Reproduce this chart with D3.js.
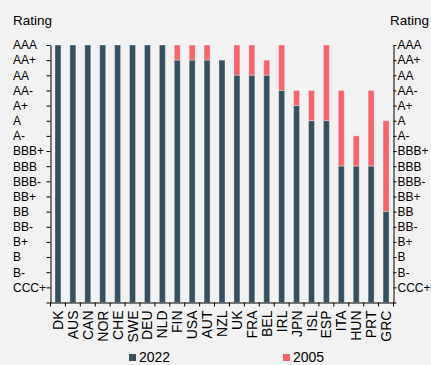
<!DOCTYPE html>
<html>
<head>
<meta charset="utf-8">
<script src="https://cdn.jsdelivr.net/npm/d3@7"></script>
<style>
  body { margin: 0; background: #f2f2f2; }
  text { font-family: "Liberation Sans", Arial, sans-serif; fill: #000; }
</style>
</head>
<body>
<div id="chart"></div>
<script>
var countries = ['DK', 'AUS', 'CAN', 'NOR', 'CHE', 'SWE', 'DEU', 'NLD', 'FIN', 'USA', 'AUT', 'NZL',
	'UK', 'FRA', 'BEL', 'IRL', 'JPN', 'ISL', 'ESP', 'ITA', 'HUN', 'PRT', 'GRC'];
var rating_2022 = ['AAA', 'AAA', 'AAA', 'AAA', 'AAA', 'AAA', 'AAA', 'AAA', 'AA+', 'AA+', 'AA+', 'AA+',
	'AA', 'AA', 'AA', 'AA-', 'A+', 'A', 'A', 'BBB', 'BBB', 'BBB', 'BB'];
var rating_2005 = ['AAA', 'AAA', 'AAA', 'AAA', 'AAA', 'AAA', 'AAA', 'AAA', 'AAA', 'AAA', 'AAA', 'AA+',
	'AAA', 'AAA', 'AA+', 'AAA', 'AA-', 'AA-', 'AAA', 'AA-', 'A-', 'AA-', 'A'];
// tick labels, lowest first
var ratings = ['CCC+', 'B-', 'B', 'B+', 'BB-', 'BB', 'BB+', 'BBB-', 'BBB', 'BBB+', 'A-', 'A', 'A+',
	'AA-', 'AA', 'AA+', 'AAA'];
var series = ['2022', '2005'];

var chart_width = 431;
var chart_height = 365;
var pad_left = 50.5, pad_right = 393.5, pad_top = 45, pad_bottom = 302.5;

var dark = '#36505f';
var red = '#f4646a';

var score = function (r) { return ratings.indexOf(r) + 1; };

var svg = d3.select('#chart')
	.append('svg')
	.attr('width', chart_width)
	.attr('height', chart_height);

var x_scale = d3.scaleBand()
	.domain(countries)
	.range([pad_left, pad_right]);

var y_scale = d3.scaleLinear()
	.domain([0, ratings.length])
	.range([pad_bottom, pad_top]);

var bar_w = 6;

// 2005 part: from 2022 level up to 2005 level
svg.selectAll('rect.r05')
	.data(countries)
	.enter()
	.append('rect')
	.attr('class', 'r05')
	.attr('x', function (d) { return x_scale(d) + x_scale.bandwidth() / 2 - bar_w / 2; })
	.attr('y', function (d, i) { return y_scale(score(rating_2005[i])); })
	.attr('width', bar_w)
	.attr('height', function (d, i) {
		return y_scale(score(rating_2022[i])) - y_scale(score(rating_2005[i]));
	})
	.attr('fill', red)
	.attr('stroke', 'rgba(255,255,255,0.35)')
	.attr('stroke-width', 1);

// 2022 bars
svg.selectAll('rect.r22')
	.data(countries)
	.enter()
	.append('rect')
	.attr('class', 'r22')
	.attr('x', function (d) { return x_scale(d) + x_scale.bandwidth() / 2 - bar_w / 2; })
	.attr('y', function (d, i) { return y_scale(score(rating_2022[i])); })
	.attr('width', bar_w)
	.attr('height', function (d, i) { return pad_bottom - y_scale(score(rating_2022[i])); })
	.attr('fill', dark)
	.attr('stroke', 'rgba(255,255,255,0.35)')
	.attr('stroke-width', 1);

// Axes
var tick_vals = d3.range(0, ratings.length + 1);
var fmt = function (d) { return d === 0 ? '' : ratings[d - 1]; };

var y_left = svg.append('g')
	.attr('transform', 'translate(' + pad_left + ',0)')
	.call(d3.axisLeft(y_scale).tickValues(tick_vals).tickFormat(fmt).tickSize(4).tickSizeOuter(0));
y_left.selectAll('text')
	.attr('text-anchor', 'start')
	.attr('x', -37.5)
	.style('font-size', '12px');

var y_right = svg.append('g')
	.attr('transform', 'translate(' + pad_right + ',0)')
	.call(d3.axisRight(y_scale).tickValues(tick_vals).tickFormat(fmt).tickSize(3).tickSizeOuter(0));
y_right.selectAll('text')
	.attr('x', 4)
	.style('font-size', '12px');

var x_axis = svg.append('g')
	.attr('transform', 'translate(0,' + pad_bottom + ')')
	.call(d3.axisBottom(x_scale).tickSize(0).tickSizeOuter(0));
x_axis.selectAll('text')
	.attr('transform', 'rotate(-90)')
	.attr('text-anchor', 'end')
	.attr('x', -8)
	.attr('y', 0)
	.attr('dy', '0.36em')
	.style('font-size', '14px');
// ticks between categories
x_axis.selectAll('line.sep')
	.data(countries.concat(['_end']))
	.enter()
	.append('line')
	.attr('class', 'sep')
	.attr('x1', function (d, i) { return pad_left + i * x_scale.step(); })
	.attr('x2', function (d, i) { return pad_left + i * x_scale.step(); })
	.attr('y1', 0)
	.attr('y2', 4)
	.attr('stroke', '#000');

svg.selectAll('.domain').attr('stroke', '#000');
svg.selectAll('.tick line').attr('stroke', '#000');

// Titles
svg.append('text').attr('x', 13).attr('y', 25).style('font-size', '13.5px').text('Rating');
svg.append('text').attr('x', 390).attr('y', 25).style('font-size', '13.5px').text('Rating');

// Legend
var legend = svg.selectAll('g.leg')
	.data(series)
	.enter()
	.append('g')
	.attr('class', 'leg')
	.attr('transform', function (d, i) { return 'translate(' + (i === 0 ? 129 : 283) + ',354)'; });
legend.append('rect')
	.attr('width', 7)
	.attr('height', 7)
	.attr('fill', function (d, i) { return i === 0 ? dark : red; });
legend.append('text')
	.attr('x', 10)
	.attr('y', 7.5)
	.style('font-size', '14px')
	.text(function (d) { return d; });
</script>
</body>
</html>
